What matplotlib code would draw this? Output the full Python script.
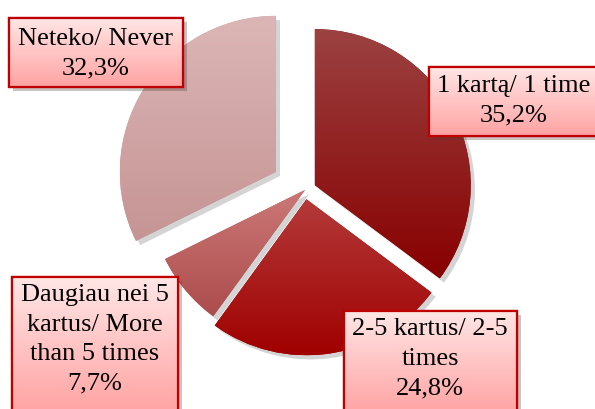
import numpy as np
import matplotlib
matplotlib.use("Agg")
import matplotlib.pyplot as plt
import matplotlib.patheffects as pe
from matplotlib.patches import Rectangle
from matplotlib.colors import LinearSegmentedColormap

# data
labels = ['1 kartą/ 1 time', '2-5 kartus/ 2-5\ntimes',
          'Daugiau nei 5\nkartus/ More\nthan 5 times', 'Neteko/ Never']
values = [35.2, 24.8, 7.7, 32.3]
explode = [0.07, 0.06, 0.0, 0.22]
# (top, bottom) gradient colours of each slice
slice_colors = [('#9c4242', '#880000'), ('#b43a3a', '#a00000'),
                ('#cc7878', '#ad4c4c'), ('#dcb6b6', '#c69494')]

W, H = 595, 409


def y(v):
    # image pixel row -> data y
    return H - v


def grad_fill(ax, patch, top, bottom, extent):
    cmap = LinearSegmentedColormap.from_list('g', [bottom, top])
    g = np.linspace(0, 1, 256).reshape(-1, 1)
    im = ax.imshow(g, cmap=cmap, extent=extent, origin='lower',
                   aspect='auto', zorder=patch.get_zorder() + 0.1,
                   interpolation='bilinear')
    im.set_clip_path(patch)
    return im


fig = plt.figure(figsize=(W / 100, H / 100), dpi=100)
ax = fig.add_axes([0, 0, 1, 1])

R = 156
# pie() takes explode in data units, so scale by the radius
wedges, _ = ax.pie(values, explode=[e * R for e in explode], startangle=90,
                   counterclock=False, radius=R, center=(305, y(190)), frame=True,
                   colors=[c[1] for c in slice_colors],
                   wedgeprops=dict(linewidth=0, path_effects=[
                       pe.SimplePatchShadow(offset=(3, -3), alpha=0.25, shadow_rgbFace='#555555'),
                       pe.Normal()]))
ax.set_xlim(0, W)
ax.set_ylim(0, H)
ax.set_aspect('auto')
ax.axis('off')

for w, (top, bottom) in zip(wedges, slice_colors):
    bb = w.get_path().get_extents(w.get_transform())
    inv = ax.transData.inverted()
    (x0, y0), (x1, y1) = inv.transform([[bb.x0, bb.y0], [bb.x1, bb.y1]])
    grad_fill(ax, w, top, bottom, [x0, x1, y0, y1])

# label boxes: (left, top, right, bottom) in image pixels, text anchor
boxes = [
    ((429, 67, 598, 136), (514, 101), 'center'),
    ((344, 311, 517, 415), (430, 318), 'top'),
    ((12, 277, 178, 415), (95, 284), 'top'),
    ((9, 18, 183, 87), (96, 54), 'center'),
]

for (lab, v), ((l, t, r, b), (tx, ty), va) in zip(zip(labels, values), boxes):
    rect = Rectangle((l, y(b)), r - l, b - t, facecolor='#ffc0c0',
                     edgecolor='#c00000', linewidth=1.6, zorder=5,
                     path_effects=[pe.SimplePatchShadow(offset=(3, -3), alpha=0.3),
                                   pe.Normal()])
    ax.add_patch(rect)
    im = grad_fill(ax, rect, '#ffe6e6', '#ffa2a2', [l, r, y(b), y(t)])
    im.set_zorder(5.05)
    edge = Rectangle((l, y(b)), r - l, b - t, facecolor='none',
                     edgecolor='#c00000', linewidth=1.6, zorder=5.2)
    ax.add_patch(edge)
    txt = lab + '\n' + f'{v:.1f}'.replace('.', ',') + '%'
    ax.text(tx, y(ty), txt, ha='center', va=va, family='Liberation Serif',
            fontsize=19, linespacing=1.45, zorder=6, color='black')

fig.savefig('out.png', dpi=100)
